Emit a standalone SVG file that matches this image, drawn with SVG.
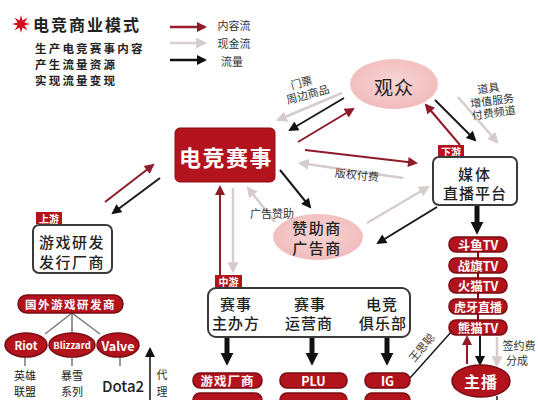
<svg xmlns="http://www.w3.org/2000/svg" width="538" height="400" viewBox="0 0 538 400">
<style>
text{font-family:"Noto Sans CJK SC","Noto Sans",sans-serif;text-anchor:middle;dominant-baseline:central}
.lg{font-weight:bold;fill:#222;text-anchor:start}
.sm{font-size:11px;fill:#333}
.wt{fill:#fff;font-weight:bold}
.bx{fill:#fff;stroke:#3a3a3a;stroke-width:2}
.pill{fill:#b3131d;stroke:#7a0c12;stroke-width:1.5}
.tag{fill:#b3131d}
.red{stroke:#8f1a28;stroke-width:2;fill:none}
.gry{stroke:#d6cccc;stroke-width:2.5;fill:none}
.blk{stroke:#1a1a1a;stroke-width:2;fill:none}
.thk{stroke:#111;stroke-width:5;fill:none}
.nd{font-size:15px;fill:#222;font-weight:500}
.gm{font-size:11px;fill:#222}
</style>
<defs>
<marker id="mr" viewBox="0 0 10 10" refX="8" refY="5" markerWidth="11" markerHeight="10" markerUnits="userSpaceOnUse" orient="auto"><path d="M0,0 L10,5 L0,10 z" fill="#8f1a28"/></marker>
<marker id="mg" viewBox="0 0 10 10" refX="8" refY="5" markerWidth="11" markerHeight="11" markerUnits="userSpaceOnUse" orient="auto"><path d="M0,0 L10,5 L0,10 z" fill="#d6cccc"/></marker>
<marker id="mk" viewBox="0 0 10 10" refX="8" refY="5" markerWidth="11" markerHeight="10" markerUnits="userSpaceOnUse" orient="auto"><path d="M0,0 L10,5 L0,10 z" fill="#111"/></marker>
<marker id="mb" viewBox="0 0 10 10" refX="1" refY="5" markerWidth="13" markerHeight="15" markerUnits="userSpaceOnUse" orient="auto"><path d="M0,0 L10,5 L0,10 z" fill="#111"/></marker>
<radialGradient id="pk" cx="50%" cy="45%" r="60%"><stop offset="0" stop-color="#f8d4d4"/><stop offset="1" stop-color="#f1b9ba"/></radialGradient>
</defs>
<rect width="538" height="400" fill="#fff"/>

<g id="legend">
<polygon points="21,15 22.5,20.5 27.5,17.5 24.5,22.5 30,24 24.5,25.5 27.5,30.5 22.5,27.5 21,33 19.5,27.5 14.5,30.5 17.5,25.5 12,24 17.5,22.5 14.5,17.5 19.5,20.5" fill="#d0101c"/>
<text class="lg" x="33" y="24" font-size="16" letter-spacing="2">电竞商业模式</text>
<text class="lg" font-size="11.5" letter-spacing="2.2"><tspan x="35" y="48">生产电竞赛事内容</tspan><tspan x="35" y="64">产生流量资源</tspan><tspan x="35" y="80">实现流量变现</tspan></text>
<line x1="170" y1="27" x2="205" y2="27" stroke="#9b1b2a" stroke-width="2.5" marker-end="url(#mr)"/>
<line x1="170" y1="43" x2="205" y2="43" stroke="#d8d0d0" stroke-width="2.5" marker-end="url(#mg)"/>
<line x1="170" y1="60" x2="205" y2="60" stroke="#111" stroke-width="2.5" marker-end="url(#mk)"/>
<text class="sm" x="234" y="25">内容流</text>
<text class="sm" x="234" y="43">现金流</text>
<text class="sm" x="232" y="61">流量</text>
</g>

<g id="connectors">
<line class="red" x1="105" y1="202" x2="153" y2="165" marker-end="url(#mr)"/>
<line class="blk" x1="160" y1="178" x2="113" y2="213" marker-end="url(#mk)"/>
<line class="gry" x1="342" y1="93" x2="278" y2="120" marker-end="url(#mg)"/>
<line class="blk" x1="344" y1="98" x2="290" y2="130" marker-end="url(#mk)"/>
<line class="red" x1="298" y1="142" x2="353" y2="109" marker-end="url(#mr)"/>
<line class="red" x1="460" y1="145" x2="426" y2="105" marker-end="url(#mr)"/>
<line class="blk" x1="435" y1="100" x2="475" y2="140" marker-end="url(#mk)"/>
<line class="gry" x1="458" y1="97" x2="497" y2="142" marker-end="url(#mg)"/>
<line class="red" x1="305" y1="150" x2="416" y2="163" marker-end="url(#mr)"/>
<line class="gry" x1="403" y1="178" x2="300" y2="163" marker-end="url(#mg)"/>
<line class="blk" x1="280" y1="170" x2="310" y2="207" marker-end="url(#mk)"/>
<line class="gry" x1="275" y1="222" x2="248" y2="188" marker-end="url(#mg)"/>
<line class="gry" x1="367" y1="223" x2="428" y2="187" marker-end="url(#mg)"/>
<line class="blk" x1="437" y1="207" x2="378" y2="243" marker-end="url(#mk)"/>
<line class="red" x1="220" y1="277" x2="220" y2="187" marker-end="url(#mr)"/>
<line class="gry" x1="233" y1="188" x2="233" y2="271" marker-end="url(#mg)"/>
<line class="thk" x1="477" y1="206" x2="477" y2="223" marker-end="url(#mb)"/>
<line class="thk" x1="227" y1="338" x2="227" y2="354" marker-end="url(#mb)"/>
<line class="thk" x1="312" y1="338" x2="312" y2="354" marker-end="url(#mb)"/>
<line class="thk" x1="387" y1="338" x2="387" y2="354" marker-end="url(#mb)"/>
<line x1="478" y1="250" x2="478" y2="322" stroke="#7a0c12" stroke-width="2"/>
<line class="red" x1="467" y1="364" x2="467" y2="337" marker-end="url(#mr)"/>
<line class="blk" x1="480" y1="336" x2="480" y2="364" stroke-width="2.5" marker-end="url(#mk)"/>
<line class="gry" x1="497" y1="337" x2="497" y2="365" marker-end="url(#mg)"/>
<line x1="452" y1="331" x2="410" y2="378" stroke="#1a1a1a" stroke-width="1.5"/>
<line x1="497" y1="396" x2="497" y2="400" stroke="#1a1a1a" stroke-width="1.5"/>
<line x1="72" y1="313" x2="45" y2="334" stroke="#777" stroke-width="1.5"/>
<line x1="72" y1="313" x2="72" y2="334" stroke="#777" stroke-width="1.5"/>
<line x1="72" y1="313" x2="100" y2="334" stroke="#777" stroke-width="1.5"/>
<line x1="25" y1="357" x2="25" y2="366" stroke="#777" stroke-width="1.5"/>
<line x1="72" y1="357" x2="72" y2="366" stroke="#777" stroke-width="1.5"/>
<line x1="120" y1="357" x2="120" y2="366" stroke="#777" stroke-width="1.5"/>
<line x1="150" y1="400" x2="150" y2="349" stroke="#111" stroke-width="1.5" marker-end="url(#mk)"/>
</g>

<g id="labels">
<text class="sm" font-size="10.5" transform="rotate(-15 305 88)"><tspan x="303" y="81">门票</tspan><tspan x="306" y="94">周边商品</tspan></text>
<text class="sm" font-size="10.5" transform="rotate(-8 491 100)"><tspan x="490" y="87">道具</tspan><tspan x="492" y="100">增值服务</tspan><tspan x="492" y="112">付费频道</tspan></text>
<text class="sm" font-size="11.5" x="357" y="174" transform="rotate(6 357 174)">版权付费</text>
<text class="sm" font-size="10.5" x="272" y="213">广告赞助</text>
<text class="sm" font-size="11" x="421" y="347" transform="rotate(-50 421 347)">王思聪</text>
<text class="sm" font-size="11"><tspan x="519" y="345">签约费</tspan><tspan x="517" y="360">分成</tspan></text>
<text class="sm" font-size="10.5"><tspan x="162" y="374">代</tspan><tspan x="162" y="391">理</tspan></text>
</g>

<g id="audience">
<ellipse cx="394" cy="84" rx="44" ry="25" fill="url(#pk)"/>
<text x="394" y="86" font-size="19" fill="#222" letter-spacing="1">观众</text>
</g>

<g id="esports-event">
<rect x="175" y="128" width="100" height="54" rx="5" fill="#b3131d" stroke="#8a0d15" stroke-width="1"/>
<text class="wt" x="226" y="156" font-size="22" letter-spacing="1.5">电竞赛事</text>
</g>

<g id="upstream">
<rect class="tag" x="36" y="212" width="26" height="12"/>
<text class="wt" x="49" y="218" font-size="10">上游</text>
<rect class="bx" x="33" y="225" width="79" height="48" rx="6"/>
<text class="nd" letter-spacing="1.5"><tspan x="72" y="241">游戏研发</tspan><tspan x="72" y="261">发行厂商</tspan></text>
</g>

<g id="sponsor">
<ellipse cx="318" cy="237" rx="45" ry="23" fill="url(#pk)"/>
<text class="nd" font-size="14.5" letter-spacing="1.5"><tspan x="317" y="227">赞助商</tspan><tspan x="317" y="247">广告商</tspan></text>
</g>

<g id="downstream">
<rect class="tag" x="438" y="145" width="26" height="12"/>
<text class="wt" x="451" y="151" font-size="10">下游</text>
<rect class="bx" x="433" y="157" width="84" height="48" rx="6"/>
<text class="nd"><tspan x="475" y="173" letter-spacing="2">媒体</tspan><tspan x="475" y="192" letter-spacing="1">直播平台</tspan></text>
</g>

<g id="platforms">
<rect class="pill" x="449" y="237" width="58" height="15" rx="7"/>
<text class="wt" x="478" y="244.5" font-size="12.5">斗鱼TV</text>
<rect class="pill" x="449" y="258" width="58" height="15" rx="7"/>
<text class="wt" x="478" y="265.5" font-size="12.5">战旗TV</text>
<rect class="pill" x="449" y="278" width="58" height="15" rx="7"/>
<text class="wt" x="478" y="285.5" font-size="12.5">火猫TV</text>
<rect class="pill" x="449" y="299" width="58" height="15" rx="7"/>
<text class="wt" x="478" y="306.5" font-size="12">虎牙直播</text>
<rect class="pill" x="449" y="320" width="58" height="15" rx="7"/>
<text class="wt" x="478" y="327.5" font-size="12.5">熊猫TV</text>
</g>

<g id="anchor">
<ellipse cx="481" cy="381" rx="29" ry="16" fill="#b3131d" stroke="#7a0c12" stroke-width="1.5"/>
<text class="wt" x="481" y="381" font-size="16" letter-spacing="1">主播</text>
</g>

<g id="midstream">
<rect class="tag" x="215" y="275" width="27" height="12"/>
<text class="wt" x="228.5" y="281" font-size="10">中游</text>
<rect class="bx" x="208" y="288" width="202" height="49" rx="8"/>
<text class="nd" letter-spacing="1"><tspan x="236" y="303">赛事</tspan><tspan x="236" y="322">主办方</tspan></text>
<text class="nd" letter-spacing="1"><tspan x="310" y="303">赛事</tspan><tspan x="309" y="322">运营商</tspan></text>
<text class="nd" letter-spacing="1"><tspan x="382" y="303">电竞</tspan><tspan x="383" y="322">俱乐部</tspan></text>
</g>

<g id="bottom-boxes">
<rect class="pill" x="193" y="373" width="69" height="15" rx="7"/>
<text class="wt" x="227.5" y="380.5" font-size="12.5" letter-spacing="1">游戏厂商</text>
<rect class="pill" x="280" y="373" width="67" height="15" rx="7"/>
<text class="wt" x="313.5" y="380.5" font-size="12.5">PLU</text>
<rect class="pill" x="365" y="373" width="45" height="15" rx="7"/>
<text class="wt" x="387.5" y="380.5" font-size="12.5">IG</text>
<rect class="pill" x="193" y="393" width="69" height="15" rx="7"/>
<rect class="pill" x="280" y="393" width="67" height="15" rx="7"/>
<rect class="pill" x="365" y="393" width="45" height="15" rx="7"/>
</g>

<g id="foreign-devs">
<rect class="pill" x="18" y="295" width="105" height="18" rx="9"/>
<text class="wt" x="70.5" y="304" font-size="11.5" letter-spacing="1.5">国外游戏研发商</text>
</g>
<g id="riot">
<ellipse cx="26" cy="345" rx="21" ry="12" fill="#b3131d" stroke="#7a0c12" stroke-width="1.5"/>
<text class="wt" x="26" y="345" font-size="11.5">Riot</text>
<text class="gm"><tspan x="25" y="375">英雄</tspan><tspan x="25" y="391">联盟</tspan></text>
</g>
<g id="blizzard">
<ellipse cx="72" cy="345" rx="23" ry="12" fill="#b3131d" stroke="#7a0c12" stroke-width="1.5"/>
<text class="wt" x="72" y="345" font-size="9.5">Blizzard</text>
<text class="gm"><tspan x="72" y="375">暴雪</tspan><tspan x="72" y="391">系列</tspan></text>
</g>
<g id="valve">
<ellipse cx="118" cy="345" rx="21" ry="12" fill="#b3131d" stroke="#7a0c12" stroke-width="1.5"/>
<text class="wt" x="118" y="345" font-size="12.5">Valve</text>
<text class="nd" x="123" y="385" font-size="15" font-family="Liberation Sans,sans-serif">Dota2</text>
</g>
</svg>
